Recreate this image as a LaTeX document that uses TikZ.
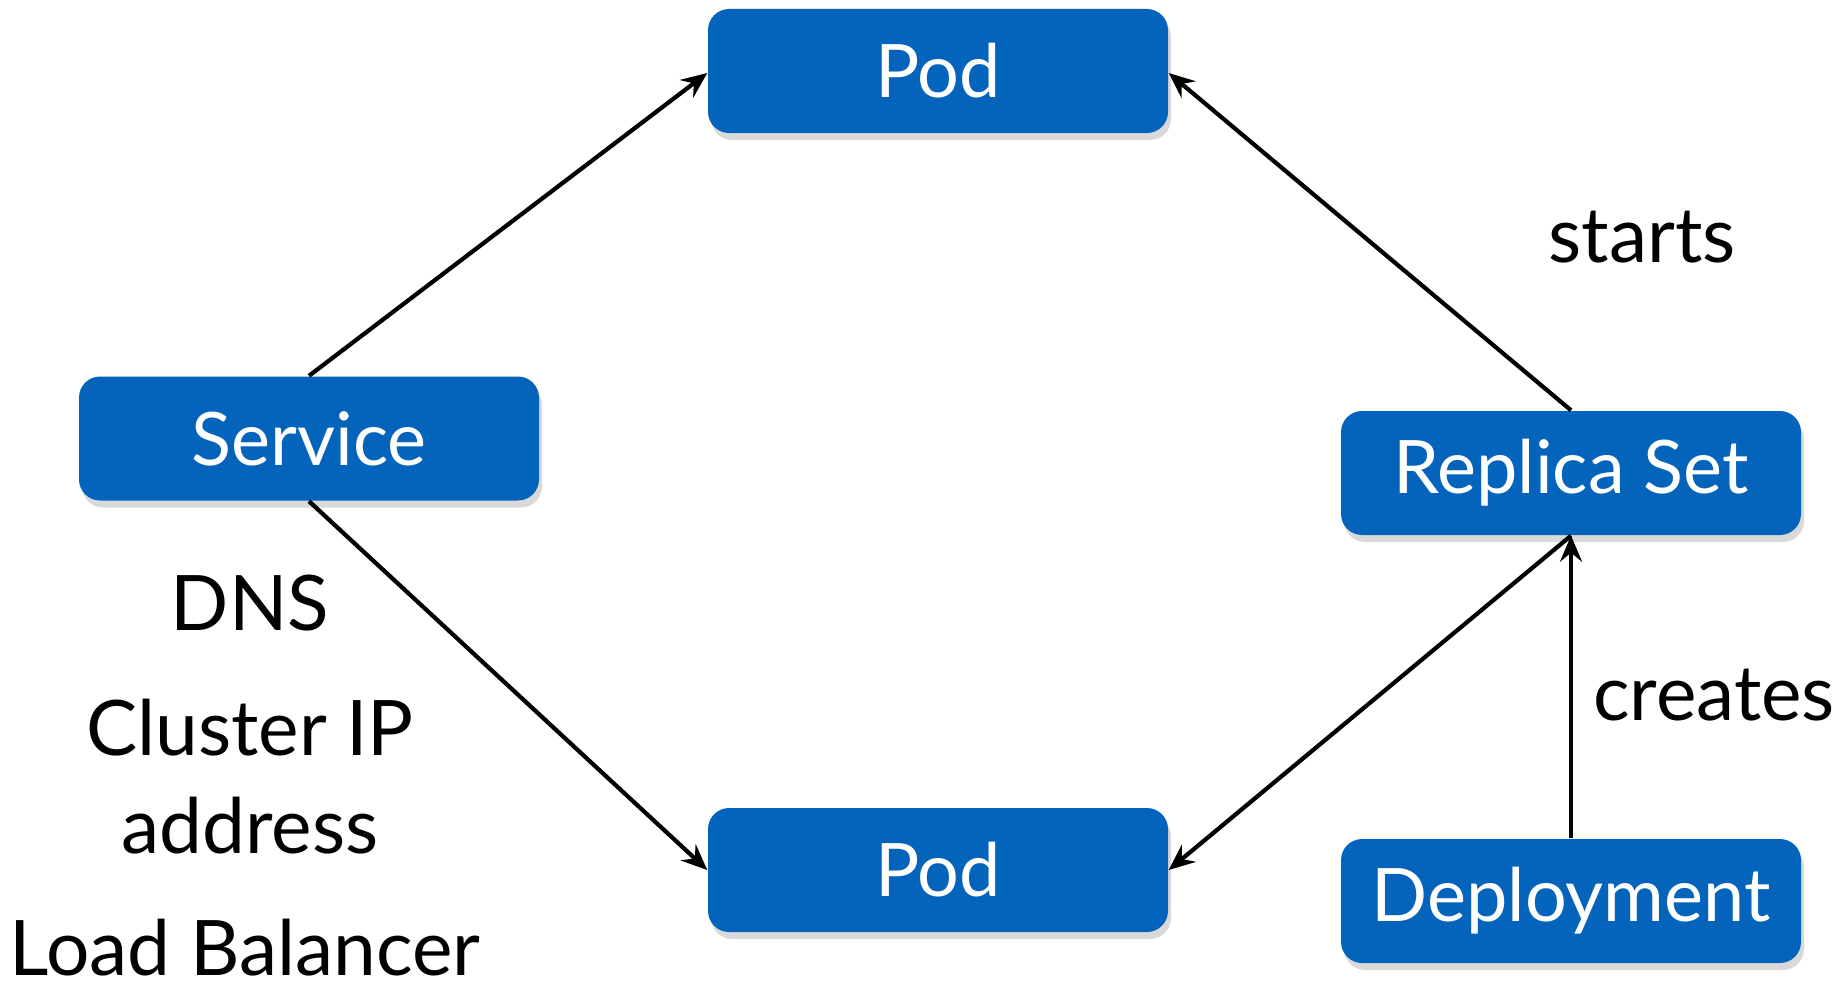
\documentclass[tikz,border=0pt]{standalone}
\usepackage{fontspec}
\setmainfont{Lato}
\usetikzlibrary{arrows.meta, positioning, shadows}
\definecolor{kubeblue}{RGB}{4,100,187}
\tikzset{
  %% ---- boxes ----
  kbox/.style   = {rectangle, rounded corners=6pt, fill=kubeblue,
                   text=white, minimum width=4.6cm, minimum height=1.24cm,
                   inner sep=0pt, font=\fontsize{21}{25}\selectfont,
                   drop shadow={opacity=0.3, shadow xshift=0.3mm,
                                shadow yshift=-0.7mm}},
  note/.style   = {inner sep=0pt, anchor=base, text depth=0pt,
                   font=\fontsize{21.8}{26}\selectfont},
  %% ---- arrows ----
  arrow/.style  = {-{Stealth[length=2.6mm, width=2.2mm, inset=0.9mm]},
                   line width=1.2pt, color=black},
}

\begin{document}
\begin{tikzpicture}
  \useasboundingbox (0,0) rectangle (18.45,9.92);

  \node[kbox] (podtop) at (9.38,9.21) {Pod};
  \node[kbox] (svc)    at (3.09,5.535) {Service};
  \node[kbox] (rs)     at (15.71,5.19) {Replica Set};
  \node[kbox] (podbot) at (9.38,1.22) {Pod};
  \node[kbox] (dep)    at (15.71,0.91) {Deployment};

  \node[note] (dns)     at (2.50,3.62) {DNS};
  \node[note] (cip)     at (2.50,2.37) {Cluster IP};
  \node[note] (addr)    at (2.50,1.39) {address};
  \node[note] (lb)      at (2.45,0.17) {Load Balancer};
  \node[note] (starts)  at (16.42,7.30) {starts};
  \node[note] (creates) at (17.14,2.72) {creates};

  \draw[arrow] (svc.north) -- ([yshift=-0.2mm]podtop.west);
  \draw[arrow] (svc.south) -- (podbot.west);
  \draw[arrow] (rs.north) -- ([yshift=-0.2mm]podtop.east);
  \draw[arrow] (rs.south) -- (podbot.east);
  \draw[arrow] (dep.north) -- (rs.south);
\end{tikzpicture}
\end{document}
